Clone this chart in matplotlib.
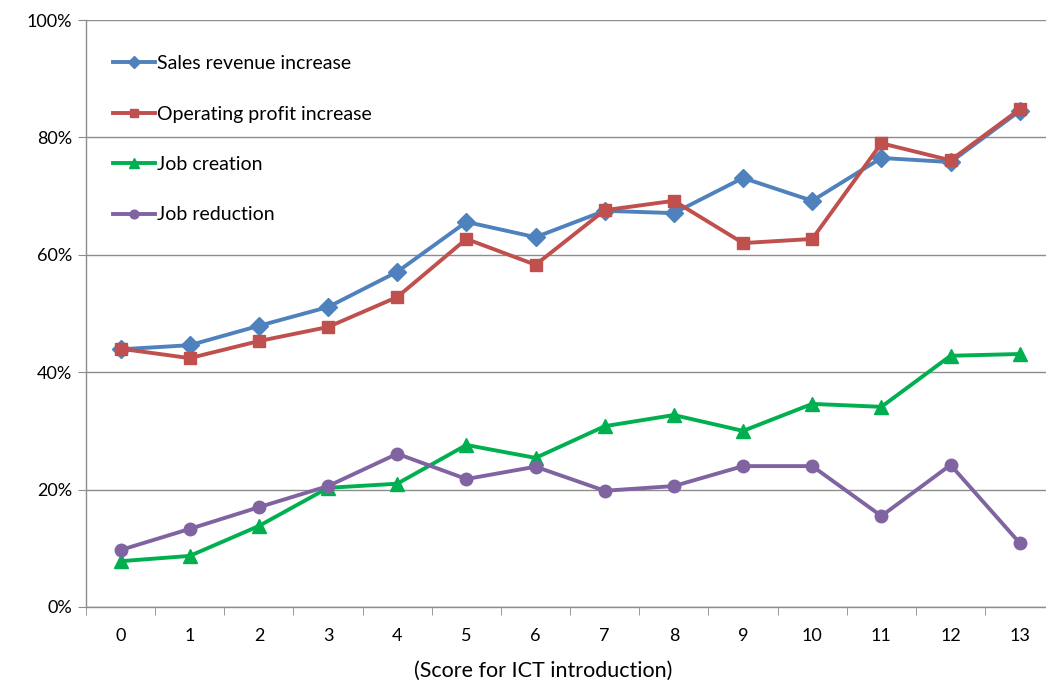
import numpy as np
import matplotlib.pyplot as plt
from matplotlib.ticker import FixedLocator, PercentFormatter

scores = list(range(14))
sales_revenue = [43.9, 44.6, 47.9, 51.1, 57.1, 65.6, 63.0, 67.5, 67.1, 73.1, 69.2, 76.5, 75.8, 84.5]
operating_profit = [44.0, 42.4, 45.3, 47.7, 52.8, 62.7, 58.3, 67.6, 69.2, 62.0, 62.7, 79.0, 76.1, 84.8]
job_creation = [7.8, 8.7, 13.8, 20.3, 21.0, 27.6, 25.4, 30.8, 32.7, 30.0, 34.6, 34.1, 42.8, 43.1]
job_reduction = [9.7, 13.3, 17.0, 20.6, 26.1, 21.8, 23.9, 19.8, 20.6, 24.0, 24.0, 15.5, 24.2, 10.9]

plt.rcParams['font.family'] = ['Lato', 'DejaVu Sans']

fig = plt.figure(figsize=(10.46, 6.86), dpi=100)
ax = fig.add_axes([0.0822, 0.1152, 0.9178, 0.8556])

series = [
    (sales_revenue, 'Sales revenue increase', '#4F81BD', 'D', 9),
    (operating_profit, 'Operating profit increase', '#C0504D', 's', 9),
    (job_creation, 'Job creation', '#00B050', '^', 10),
    (job_reduction, 'Job reduction', '#8064A2', 'o', 9),
]
for vals, name, col, mk, ms in series:
    ax.plot(scores, vals, color=col, lw=2.8, marker=mk, ms=ms,
            markeredgecolor=col, label=name, zorder=3)

ax.set_ylim(0, 100)
ax.set_xlim(-0.48, 13.38)
ax.yaxis.set_major_locator(FixedLocator(np.arange(0, 101, 20)))
ax.yaxis.set_major_formatter(PercentFormatter(decimals=0))
ax.set_xticks(scores)
ax.set_xticks(np.arange(-0.5, 13.5, 1), minor=True)
ax.grid(axis='y', color='#8c8c8c', lw=1.0, zorder=0)

for side in ['top', 'right']:
    ax.spines[side].set_visible(False)
for side in ['left', 'bottom']:
    ax.spines[side].set_color('#8c8c8c')
    ax.spines[side].set_linewidth(1.0)

ax.tick_params(axis='x', which='major', length=0, pad=15, labelsize=13, colors='#000000')
ax.tick_params(axis='x', which='minor', length=6, color='#8c8c8c', direction='out')
ax.tick_params(axis='y', length=6, color='#8c8c8c', direction='out', labelsize=13, pad=4)

ax.set_xlabel('(Score for ICT introduction)', fontsize=15.5, labelpad=15)
ax.xaxis.set_label_coords(0.476, -0.092)

leg = ax.legend(loc='upper left', bbox_to_anchor=(0.01, 0.97), frameon=False,
                fontsize=14, labelspacing=1.72, handlelength=2.15,
                handletextpad=0.1, markerscale=0.7)

fig.savefig('out.png', dpi=100)
